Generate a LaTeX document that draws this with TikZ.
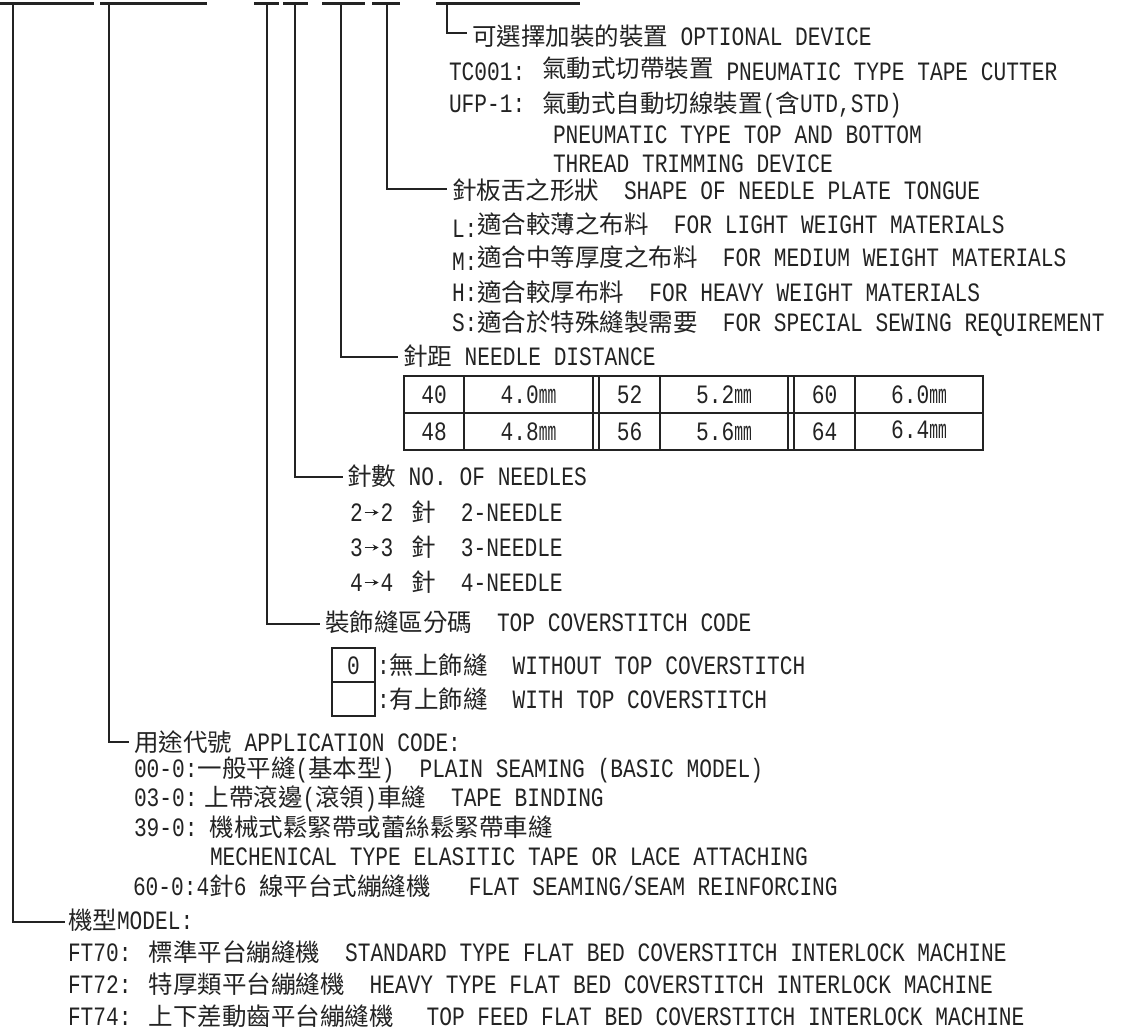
\documentclass[tikz,border=0pt]{standalone}
\usepackage{fontspec}
\usepackage{graphicx}
\usetikzlibrary{arrows.meta}
\newfontfamily\enf[FakeStretch=0.8]{Liberation Mono}
\newfontfamily\cjk{Noto Sans CJK TC}
\newfontfamily\mmf[FakeStretch=0.55]{Liberation Mono}
\definecolor{ink}{RGB}{35,35,35}
\newcommand\zh[1]{{\cjk\fontsize{24.5}{28}\selectfont #1}}
\newcommand\mmu{{\mmf mm}}
\newcommand\rarr{\tikz[x=1pt,y=1pt,baseline=0pt]{\path (0,0) (18,0); \draw[ink,line width=1.4pt,-{Stealth[length=6pt,width=6pt]}] (2,8.5) -- (16,8.5);}}
\tikzset{
 txt/.style={anchor=base west,inner sep=0pt,outer sep=0pt,text=ink,font=\enf\fontsize{26.5}{30}\selectfont},
 ctr/.style={anchor=base,inner sep=0pt,outer sep=0pt,text=ink,font=\enf\fontsize{26.5}{30}\selectfont},
 bar/.style={draw=ink,line width=3pt},
 lead/.style={draw=ink,line width=1.6pt},
 grid/.style={draw=ink,line width=1.3pt},
}
\begin{document}
\begin{tikzpicture}[x=1pt,y=-1pt]
\fill[white] (0,0) rectangle (1126,1030);
\useasboundingbox (0,0) rectangle (1126,1030);
% top bars
\foreach \a/\b in {0/94,100/207,254/279,283/308,322/365,372/400,436/580}
  \draw[bar] (\a,4) -- (\b,4);
% lead lines
\coordinate (v1) at (12.7,4); \coordinate (h1) at (65,922);
\coordinate (v2) at (109,4);  \coordinate (h2) at (129,742);
\coordinate (v3) at (267,4);  \coordinate (h3) at (320,624);
\coordinate (v4) at (295,4);  \coordinate (h4) at (343,477);
\coordinate (v5) at (341,4);  \coordinate (h5) at (398,357);
\coordinate (v6) at (387,4);  \coordinate (h6) at (447,189);
\coordinate (v7) at (447,4);  \coordinate (h7) at (467,33);
\foreach \i in {1,...,7} \draw[lead] (v\i) |- (h\i);
% optional device
\node[txt] (n1) at (472,46) {\zh{可選擇加裝的裝置} OPTIONAL DEVICE};
\node[txt] (n2) at (449,81) {TC001: \raisebox{3pt}{\zh{氣動式切帶裝置}} PNEUMATIC TYPE TAPE CUTTER};
\node[txt] (n3) at (449,113) {UFP-1: \zh{氣動式自動切線裝置}(\zh{含}UTD,STD)};
\node[txt] (n4) at (553,143) {PNEUMATIC TYPE TOP AND BOTTOM};
\node[txt] (n5) at (553,172) {THREAD TRIMMING DEVICE};
% needle plate tongue
\node[txt] (n6) at (452,199) {\zh{針板舌之形狀}\hspace*{25pt}SHAPE OF NEEDLE PLATE TONGUE};
\node[txt] (n7) at (452,233) {\raisebox{-4pt}{L:}\zh{適合較薄之布料}\hspace*{25pt}FOR LIGHT WEIGHT MATERIALS};
\node[txt] (n8) at (452,266) {\raisebox{-4pt}{M:}\zh{適合中等厚度之布料}\hspace*{25pt}FOR MEDIUM WEIGHT MATERIALS};
\node[txt] (n9) at (452,301) {H:\zh{適合較厚布料}\hspace*{25pt}FOR HEAVY WEIGHT MATERIALS};
\node[txt] (n10) at (452,331) {S:\zh{適合於特殊縫製需要}\hspace*{25pt}FOR SPECIAL SEWING REQUIREMENT};
% needle distance
\node[txt] (n11) at (403,365) {\zh{針距} NEEDLE DISTANCE};
\draw[grid] (404,376) rectangle (983,450);
\draw[grid] (404,413) -- (983,413);
\foreach \x in {464,593,599,660,788,794,855} \draw[grid] (\x,376) -- (\x,450);
\node[ctr] (c11) at (434,403.5) {40};
\node[ctr] (c12) at (528.5,403.5) {4.0\mmu};
\node[ctr] (c13) at (629.5,403.5) {52};
\node[ctr] (c14) at (724,403.5) {5.2\mmu};
\node[ctr] (c15) at (824.5,403.5) {60};
\node[ctr] (c16) at (919,403.5) {6.0\mmu};
\node[ctr] (c21) at (434,440.5) {48};
\node[ctr] (c22) at (528.5,440.5) {4.8\mmu};
\node[ctr] (c23) at (629.5,440.5) {56};
\node[ctr] (c24) at (724,440.5) {5.6\mmu};
\node[ctr] (c25) at (824.5,440.5) {64};
\node[ctr] (c26) at (919,438.5) {6.4\mmu};
% number of needles
\node[txt] (n12) at (347,485) {\zh{針數} NO. OF NEEDLES};
\node[txt] (n13) at (350,521) {2\rarr2\hspace*{18pt}\zh{針}\hspace*{25pt}2-NEEDLE};
\node[txt] (n14) at (350,556) {3\rarr3\hspace*{18pt}\zh{針}\hspace*{25pt}3-NEEDLE};
\node[txt] (n15) at (350,591) {4\rarr4\hspace*{18pt}\zh{針}\hspace*{25pt}4-NEEDLE};
% top coverstitch code
\node[txt] (n16) at (325,631) {\zh{裝飾縫區分碼}\hspace*{25pt}TOP COVERSTITCH CODE};
\draw[grid] (332,648) rectangle (375,716);
\draw[grid] (332,682) -- (375,682);
\node[ctr] (n17) at (353.5,674) {0};
\node[txt] (n18) at (377,674) {:\zh{無上飾縫}\hspace*{25pt}WITHOUT TOP COVERSTITCH};
\node[txt] (n19) at (377,708) {:\zh{有上飾縫}\hspace*{25pt}WITH TOP COVERSTITCH};
% application code
\node[txt] (n20) at (134,751) {\zh{用途代號} APPLICATION CODE:};
\node[txt] (n21) at (134,777) {00-0:\zh{一般平縫}(\zh{基本型})\hspace*{25pt}PLAIN SEAMING (BASIC MODEL)};
\node[txt] (n22) at (134,806) {03-0:\hspace*{7pt}\zh{上帶滾邊}(\zh{滾領})\zh{車縫}\hspace*{25pt}TAPE BINDING};
\node[txt] (n23) at (134,836) {39-0:\hspace*{12pt}\zh{機械式鬆緊帶或蕾絲鬆緊帶車縫}};
\node[txt] (n24) at (210,865) {MECHENICAL TYPE ELASITIC TAPE OR LACE ATTACHING};
\node[txt] (n25) at (133,895) {60-0:4\zh{針}6 \zh{線平台式繃縫機}\hspace*{38pt}FLAT SEAMING/SEAM REINFORCING};
% model
\node[txt] (n26) at (68,929) {\zh{機型}MODEL:};
\node[txt] (n27) at (68,961) {FT70: \zh{標準平台繃縫機}\hspace*{25pt}STANDARD TYPE FLAT BED COVERSTITCH INTERLOCK MACHINE};
\node[txt] (n28) at (68,993) {FT72: \zh{特厚類平台繃縫機}\hspace*{25pt}HEAVY TYPE FLAT BED COVERSTITCH INTERLOCK MACHINE};
\node[txt] (n29) at (68,1025) {FT74: \zh{上下差動齒平台繃縫機}\hspace*{33pt}TOP FEED FLAT BED COVERSTITCH INTERLOCK MACHINE};
\end{tikzpicture}
\end{document}
